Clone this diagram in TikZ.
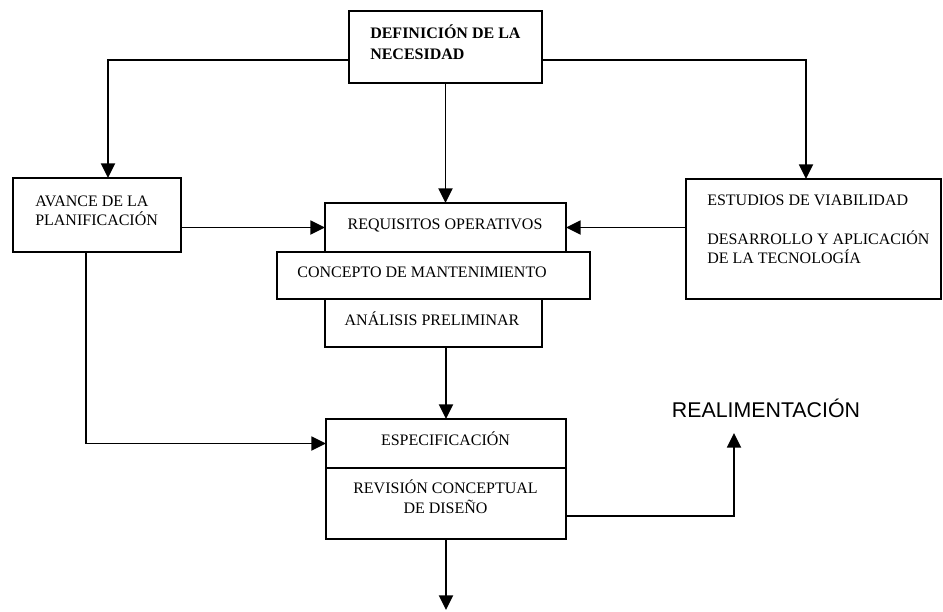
\documentclass[tikz,border=0pt]{standalone}
\usepackage{fontspec}
\setmainfont{Liberation Serif}
\newfontfamily\arialfont{Liberation Sans}
\usetikzlibrary{arrows.meta}
\tikzset{
  box/.style={draw, line width=1.4pt, rectangle, inner sep=0pt, outer sep=0pt, anchor=north west},
  arr/.style={line width=1.4pt, -{Triangle[length=11pt,width=10.5pt]}},
  txt/.style={inner sep=0pt, font=\fontsize{12pt}{14pt}\selectfont},
  btxt/.style={inner sep=0pt, font=\fontsize{12pt}{14pt}\selectfont\bfseries},
}
\begin{document}
\begin{tikzpicture}[x=0.75pt,y=-0.75pt]
\useasboundingbox (0,0) rectangle (943,611);
% boxes
\node[box, minimum width=144.75pt, minimum height=54pt] (D) at (349,11) {};
\node[box, minimum width=126pt, minimum height=55.5pt] (A) at (13,178) {};
\node[box, minimum width=191.25pt, minimum height=90pt] (E) at (686,179) {};
\node[box, minimum width=180.75pt, minimum height=36.75pt] (R) at (325,203) {};
\node[box, minimum width=234.75pt, minimum height=35.25pt] (C) at (277,252) {};
\node[box, minimum width=162.75pt, minimum height=36pt] (AN) at (325,299) {};
\node[box, minimum width=180pt, minimum height=36.75pt] (S1) at (326,419) {};
\node[box, minimum width=180pt, minimum height=53.25pt] (S2) at (326,468) {};
% texts
\node[btxt, anchor=base west] (tD1) at (370,38) {DEFINICIÓN DE LA};
\node[btxt, anchor=base west] (tD2) at (370,59) {NECESIDAD};
\node[txt, anchor=base west] (tA1) at (35,206) {AVANCE DE LA};
\node[txt, anchor=base west] (tA2) at (35,225) {PLANIFICACIÓN};
\node[txt, anchor=base west] (tE1) at (707,205) {ESTUDIOS DE VIABILIDAD};
\node[txt, anchor=base west] (tE2) at (707,244) {DESARROLLO Y APLICACIÓN};
\node[txt, anchor=base west] (tE3) at (707,263) {DE LA TECNOLOGÍA};
\node[txt, anchor=base] (tR) at (445,229) {REQUISITOS OPERATIVOS};
\node[txt, anchor=base] (tC) at (422,277) {CONCEPTO DE MANTENIMIENTO};
\node[txt, anchor=base] (tAN) at (432,325) {ANÁLISIS PRELIMINAR};
\node[txt, anchor=base] (tS1) at (445.5,445) {ESPECIFICACIÓN};
\node[txt, anchor=base] (tS2) at (445.5,493) {REVISIÓN CONCEPTUAL};
\node[txt, anchor=base] (tS3) at (445.5,513) {DE DISEÑO};
\node[inner sep=0pt, anchor=base, font=\arialfont\fontsize{16pt}{18pt}\selectfont] (RE) at (766,417) {REALIMENTACIÓN};
% free ends
\coordinate (fb) at (734,433);
\coordinate (bot) at (446,610);
% connectors
\draw[arr] ([yshift=-9.75pt]D.west) -| ([xshift=8.25pt]A.north);
\draw[arr] ([yshift=-9.75pt]D.east) -| ([xshift=-5.625pt]E.north);
\draw[arr] (D.south) -- (R.north);
\draw[arr] (A.east |- R.west) -- (R.west);
\draw[arr] (E.west |- R.east) -- (R.east);
\draw[arr] (AN.south -| S1.north) -- (S1.north);
\draw[arr] ([xshift=-8.25pt]A.south) |- (S1.west);
\draw[arr] ([yshift=-9.375pt]S2.east) -| (fb);
\draw[arr] (S2.south) -- (bot);
\end{tikzpicture}
\end{document}
